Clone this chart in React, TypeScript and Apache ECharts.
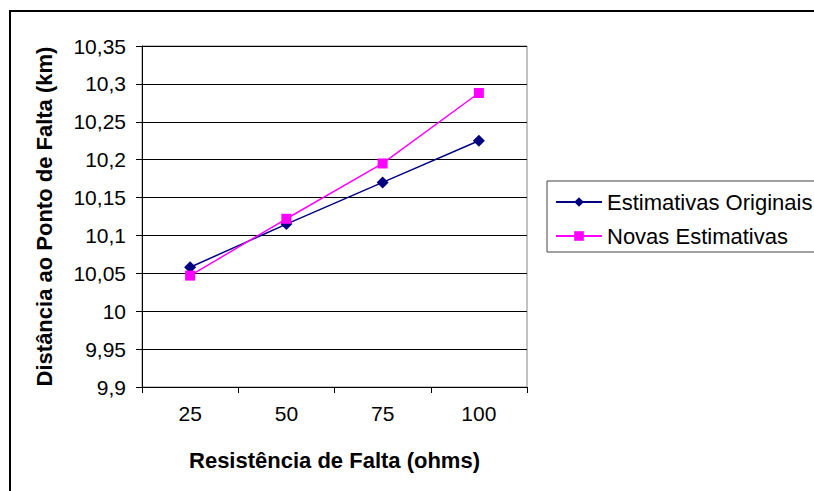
import React, { useEffect, useRef } from "react";
import * as echarts from "echarts";

const categories = ["25", "50", "75", "100"];
const estimativasOriginais = [10.058, 10.115, 10.17, 10.225];
const novasEstimativas = [10.047, 10.122, 10.195, 10.288];
const seriesNames = ["Estimativas Originais", "Novas Estimativas"];
const xTitle = "Resistência de Falta (ohms)";
const yTitle = "Distância ao Ponto de Falta (km)";

const FONT = "'Liberation Sans', Arial, Helvetica, sans-serif";

export default function App() {
  const ref = useRef<HTMLDivElement>(null);
  useEffect(() => {
    document.body.style.margin = "0";
    const chart = echarts.init(ref.current!, null, { renderer: "svg" });
    chart.setOption({
      animation: false,
      backgroundColor: "#ffffff",
      textStyle: { fontFamily: FONT },
      graphic: [
        {
          type: "rect",
          shape: { x: 10, y: 11, width: 900, height: 600 },
          style: { fill: "none", stroke: "#000", lineWidth: 2 },
          silent: true,
        },
      ],
      grid: {
        left: 142,
        right: 814 - 527,
        top: 46,
        bottom: 491 - 387,
        show: true,
        borderColor: "#888",
        borderWidth: 1,
        containLabel: false,
      },
      legend: {
        orient: "vertical",
        left: 547,
        top: 181,
        padding: [10, 40, 5, 8],
        itemGap: 12,
        itemWidth: 46,
        itemHeight: 12,
        borderColor: "#444",
        borderWidth: 1,
        textStyle: { fontFamily: FONT, fontSize: 22, color: "#000" },
        data: seriesNames,
      },
      xAxis: {
        type: "category",
        data: categories,
        boundaryGap: true,
        axisLine: { lineStyle: { color: "#000", width: 1 } },
        axisTick: { show: true, length: 6, lineStyle: { color: "#000" } },
        axisLabel: { color: "#000", fontSize: 21, fontFamily: FONT, margin: 16 },
        name: xTitle,
        nameLocation: "middle",
        nameGap: 62,
        nameTextStyle: { color: "#000", fontSize: 22, fontWeight: "bold", fontFamily: FONT },
        splitLine: { show: false },
      },
      yAxis: {
        type: "value",
        min: 9.9,
        max: 10.35,
        interval: 0.05,
        axisLine: { show: true, lineStyle: { color: "#000", width: 1 } },
        axisTick: { show: true, length: 6, lineStyle: { color: "#000" } },
        axisLabel: {
          color: "#000",
          fontSize: 21,
          fontFamily: FONT,
          margin: 16,
          formatter: (v: number) => String(+v.toFixed(2)).replace(".", ","),
        },
        splitLine: { show: true, lineStyle: { color: "#000", width: 1 } },
        name: yTitle,
        nameLocation: "middle",
        nameGap: 87,
        nameTextStyle: { color: "#000", fontSize: 22, fontWeight: "bold", fontFamily: FONT },
      },
      series: [
        {
          name: seriesNames[0],
          type: "line",
          data: estimativasOriginais,
          symbol: "diamond",
          symbolSize: 12,
          itemStyle: { color: "#000080" },
          lineStyle: { color: "#000080", width: 1.5 },
        },
        {
          name: seriesNames[1],
          type: "line",
          data: novasEstimativas,
          symbol: "rect",
          symbolSize: 10,
          itemStyle: { color: "#ff00ff" },
          lineStyle: { color: "#ff00ff", width: 1.5 },
        },
      ],
    });
    return () => chart.dispose();
  }, []);
  return <div ref={ref} style={{ width: 814, height: 491 }} />;
}
